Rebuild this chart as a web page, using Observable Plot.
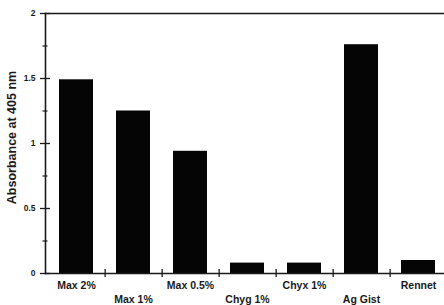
<!DOCTYPE html>
<html>
<head>
<meta charset="utf-8">
<script src="https://cdn.jsdelivr.net/npm/d3@7"></script>
<script src="https://cdn.jsdelivr.net/npm/@observablehq/plot@0.6"></script>
<style>
  html, body { margin: 0; padding: 0; background: #fff; }
  #chart svg { display: block; }
</style>
</head>
<body>
<div id="chart"></div>
<script>
const categories = ["Max 2%", "Max 1%", "Max 0.5%", "Chyg 1%", "Chyx 1%", "Ag Gist", "Rennet"];
const absorbance = [1.49, 1.25, 0.94, 0.08, 0.08, 1.76, 0.10];
const yMajorTicks = [0, 0.5, 1, 1.5, 2];
const yMinorTicks = [0.25, 0.75, 1.25, 1.75];
const yTickLabels = ["0", "0.5", "1", "1.5", "2"];
const yLabel = "Absorbance at 405 nm";

const data = categories.map((c, i) => ({category: c, value: absorbance[i], row: i % 2}));

const W = 444, H = 305;
const mTop = 13, mBottom = 32, mLeft = 45, mRight = 0;
const plotW = W - mLeft - mRight, plotH = H - mTop - mBottom;
const xRange = [47, 448];
const step = (xRange[1] - xRange[0]) / categories.length;
const font = "'Liberation Sans', Arial, sans-serif";
const ink = "#1a1a1a";

const chart = Plot.plot({
  width: W,
  height: H,
  marginTop: mTop,
  marginBottom: mBottom,
  marginLeft: mLeft,
  marginRight: mRight,
  style: {fontFamily: font, background: "#fff", color: ink},
  x: {domain: categories, range: xRange, paddingInner: 0.4, paddingOuter: 0.2, axis: null},
  y: {domain: [0, 2], axis: null},
  marks: [
    Plot.barY(data, {x: "category", y: "value", fill: "#050505"}),
    Plot.frame({anchor: "left", stroke: ink, strokeWidth: 1.6}),
    Plot.frame({anchor: "top", stroke: ink, strokeWidth: 1.4}),
    Plot.frame({anchor: "bottom", stroke: ink, strokeWidth: 1.6}),
    // major y ticks crossing the axis
    Plot.ruleY(yMajorTicks, {y: d => d, insetRight: plotW - 10, dx: -5, stroke: ink, strokeWidth: 1.3}),
    // minor y ticks crossing the axis
    Plot.ruleY(yMinorTicks, {y: d => d, insetRight: plotW - 5, dx: -2.5, stroke: ink, strokeWidth: 1.2}),
    // y tick labels
    Plot.text(yMajorTicks, {y: d => d, frameAnchor: "left", text: (d, i) => yTickLabels[i],
      textAnchor: "end", dx: -10, fontSize: 8.5, fontWeight: "bold", fill: ink}),
    // x separator ticks crossing the axis
    Plot.ruleX(categories.slice(0, categories.length - 1), {x: d => d, dx: step / 2,
      insetTop: plotH - 8, dy: 4, stroke: ink, strokeWidth: 1.3}),
    // x labels (alternating rows)
    Plot.text(data.filter(d => d.row === 0), {x: "category", y: () => 0, text: "category", dy: 12,
      fontSize: 10.5, fontWeight: "bold", fill: ink}),
    Plot.text(data.filter(d => d.row === 1), {x: "category", y: () => 0, text: "category", dy: 26,
      fontSize: 10.5, fontWeight: "bold", fill: ink}),
    // y axis title
    Plot.text([yLabel], {frameAnchor: "left", text: d => d, rotate: -90, textAnchor: "middle",
      dx: -34, dy: -6, fontSize: 12.5, fontWeight: "bold", fill: ink})
  ]
});
document.getElementById("chart").appendChild(chart);
</script>
</body>
</html>
